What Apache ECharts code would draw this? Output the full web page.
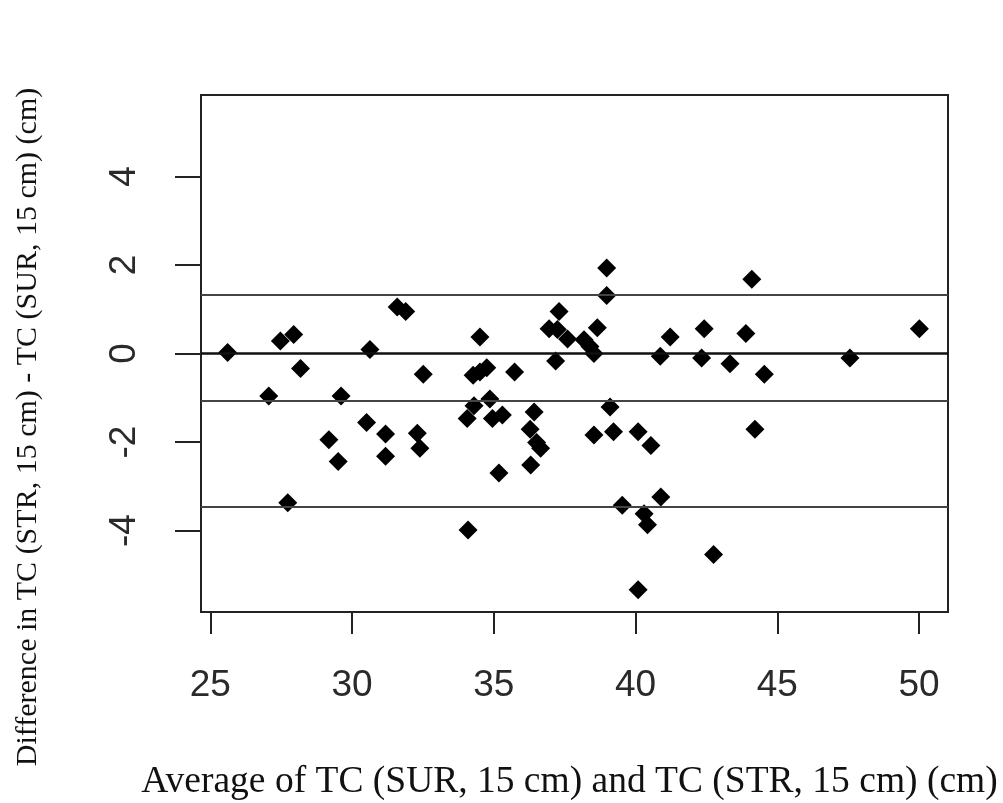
<!DOCTYPE html>
<html>
<head>
<meta charset="utf-8">
<script src="https://cdn.jsdelivr.net/npm/echarts@6/dist/echarts.min.js"></script>
<style>
  html, body { margin: 0; padding: 0; background: #fff; }
  #chart { width: 1003px; height: 803px; }
</style>
</head>
<body>
<div id="chart"></div>
<script>
// average of the two measurements (x) and their difference (y)
const avgVals = [
  25.61, 27.47, 27.94, 28.18, 27.06, 29.61, 30.63, 31.59, 31.89, 32.51,
  30.51, 29.18, 29.51, 31.18, 31.18, 32.30, 32.39, 27.73, 38.98, 38.98,
  37.30, 36.95, 37.24, 37.60, 38.18, 38.39, 38.53, 38.65, 37.18, 34.51,
  34.27, 34.51, 34.75, 35.73, 34.06, 34.30, 34.86, 34.95, 35.30, 36.42,
  36.28, 36.51, 36.65, 36.30, 35.18, 34.09, 39.10, 38.53, 39.22, 40.09,
  40.54, 39.53, 40.89, 40.30, 40.42, 40.09, 41.22, 40.87, 44.10, 42.42,
  43.89, 42.33, 43.33, 44.54, 47.56, 50.01, 44.21, 42.75
]
const diffVals = [
  0.02, 0.28, 0.43, -0.34, -0.96, -0.96, 0.09, 1.05, 0.95, -0.47,
  -1.56, -1.95, -2.44, -1.82, -2.32, -1.80, -2.14, -3.37, 1.93, 1.31,
  0.95, 0.56, 0.54, 0.33, 0.31, 0.16, 0.00, 0.58, -0.17, 0.37,
  -0.49, -0.42, -0.32, -0.42, -1.47, -1.18, -1.03, -1.47, -1.39, -1.32,
  -1.71, -2.01, -2.14, -2.52, -2.70, -3.99, -1.21, -1.84, -1.77, -1.77,
  -2.08, -3.43, -3.24, -3.62, -3.87, -5.34, 0.37, -0.06, 1.68, 0.56,
  0.45, -0.10, -0.23, -0.47, -0.10, 0.56, -1.71, -4.54
]
// bias and limits of agreement
const upperLoA = 1.335
const meanDiff = -1.065
const lowerLoA = -3.465
const zeroLine = 0

const xTicks = [25, 30, 35, 40, 45, 50]
const yTicks = [-4, -2, 0, 2, 4]

const xTitle = 'Average of TC (SUR, 15 cm) and TC (STR, 15 cm) (cm)'
const yTitle = 'Difference in TC (STR, 15 cm) - TC (SUR, 15 cm) (cm)'

const chart = echarts.init(document.getElementById('chart'))

chart.setOption({
  animation: false,
  grid: {
    left: 201, right: 55, top: 95, bottom: 191,
    outerBoundsMode: 'none',
    containLabel: false,
    show: true, borderColor: '#222', borderWidth: 2, backgroundColor: 'transparent'
  },
  xAxis: {
    type: 'value',
    min: 24.67,
    max: 51.02,
    splitLine: { show: false },
    axisLine: { show: true, onZero: false, lineStyle: { color: '#222', width: 2 } },
    axisTick: { show: true, customValues: xTicks, length: 22, lineStyle: { color: '#222', width: 2 } },
    axisLabel: {
      customValues: xTicks,
      margin: 55,
      color: '#2a2a2a',
      fontFamily: 'Liberation Sans',
      fontSize: 37
    },
    name: xTitle,
    nameLocation: 'middle',
    nameGap: 151,
    nameTextStyle: { fontFamily: 'Liberation Serif', fontSize: 37.5, color: '#111', padding: [0, 10, 0, 0] }
  },
  yAxis: {
    type: 'value',
    min: -5.84,
    max: 5.84,
    splitLine: { show: false },
    axisLine: { show: true, onZero: false, lineStyle: { color: '#222', width: 2 } },
    axisTick: { show: true, customValues: yTicks, length: 26, lineStyle: { color: '#222', width: 2 } },
    axisLabel: {
      customValues: yTicks,
      rotate: 90,
      margin: 58,
      color: '#2a2a2a',
      fontFamily: 'Liberation Sans',
      fontSize: 37
    }
  },
  graphic: [{
    type: 'text',
    x: 28,
    y: 427,
    rotation: Math.PI / 2,
    style: {
      text: yTitle,
      fontFamily: 'Liberation Serif',
      fontSize: 30,
      fill: '#111',
      align: 'center',
      verticalAlign: 'middle'
    }
  }],
  series: [{
    type: 'scatter',
    symbol: 'diamond',
    symbolSize: 19,
    itemStyle: { color: '#000', opacity: 1 },
    data: avgVals.map((x, i) => [x, diffVals[i]]),
    markLine: {
      silent: true,
      symbol: 'none',
      label: { show: false },
      data: [
        { yAxis: upperLoA, lineStyle: { color: '#444', width: 2, type: 'solid' } },
        { yAxis: zeroLine, lineStyle: { color: '#111', width: 2.5, type: 'solid' } },
        { yAxis: meanDiff, lineStyle: { color: '#444', width: 2, type: 'solid' } },
        { yAxis: lowerLoA, lineStyle: { color: '#444', width: 2, type: 'solid' } }
      ]
    }
  }]
})
</script>
</body>
</html>
